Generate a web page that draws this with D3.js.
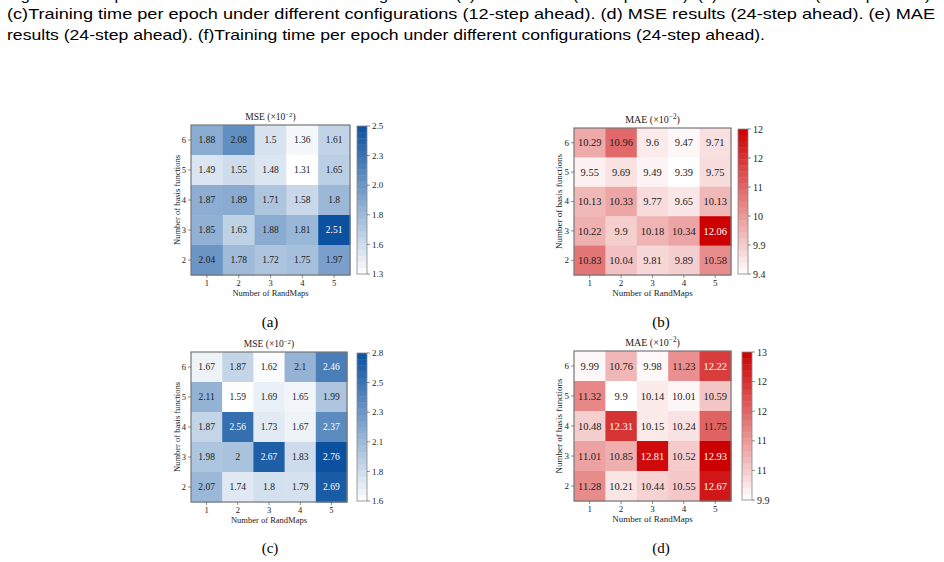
<!DOCTYPE html>
<html>
<head>
<meta charset="utf-8">
<script src="https://cdn.jsdelivr.net/npm/d3@7"></script>
<style>
  body { margin: 0; background: #fff; }
  svg { display: block; }
</style>
</head>
<body>
<svg id="fig" width="944" height="562"></svg>
<script>
// ---- data ----
const randMaps = [1, 2, 3, 4, 5]
const basisFns = [6, 5, 4, 3, 2]   // rows, top to bottom

const mse12 = [
  [1.88, 2.08, 1.5, 1.36, 1.61],
  [1.49, 1.55, 1.48, 1.31, 1.65],
  [1.87, 1.89, 1.71, 1.58, 1.8],
  [1.85, 1.63, 1.88, 1.81, 2.51],
  [2.04, 1.78, 1.72, 1.75, 1.97]
]
const mae12 = [
  [10.29, 10.96, 9.6, 9.47, 9.71],
  [9.55, 9.69, 9.49, 9.39, 9.75],
  [10.13, 10.33, 9.77, 9.65, 10.13],
  [10.22, 9.9, 10.18, 10.34, 12.06],
  [10.83, 10.04, 9.81, 9.89, 10.58]
]
const mse24 = [
  [1.67, 1.87, 1.62, 2.1, 2.46],
  [2.11, 1.59, 1.69, 1.65, 1.99],
  [1.87, 2.56, 1.73, 1.67, 2.37],
  [1.98, 2, 2.67, 1.83, 2.76],
  [2.07, 1.74, 1.8, 1.79, 2.69]
]
const mae24 = [
  [9.99, 10.76, 9.98, 11.23, 12.22],
  [11.32, 9.9, 10.14, 10.01, 10.59],
  [10.48, 12.31, 10.15, 10.24, 11.75],
  [11.01, 10.85, 12.81, 10.52, 12.93],
  [11.28, 10.21, 10.44, 10.55, 12.67]
]

const cbarTicksA = ["1.3", "1.6", "1.8", "2.0", "2.3", "2.5"]
const cbarTicksB = ["9.4", "9.9", "10", "11", "12", "12"]
const cbarTicksC = ["1.6", "1.8", "2.1", "2.3", "2.5", "2.8"]
const cbarTicksD = ["9.9", "11", "11", "12", "12", "13"]

const captionLines = [
  "Fig. 7. Heatmaps of the results under different configurations. (a) MSE results (12-step ahead). (b) MAE results (12-step ahead).",
  "(c)Training time per epoch under different configurations (12-step ahead). (d) MSE results (24-step ahead). (e) MAE",
  "results (24-step ahead). (f)Training time per epoch under different configurations (24-step ahead)."
]

const svg = d3.select("#fig")
const serif = "'Liberation Serif', 'Times New Roman', serif"

// ---- caption (first line sits mostly above the page edge) ----
const capLayout = [
  {y: -0.5, w: 928},
  {y: 19, w: 928},
  {y: 40, w: 758}
]
captionLines.forEach((t, i) => {
  svg.append("text")
    .attr("x", 7)
    .attr("y", capLayout[i].y)
    .attr("textLength", capLayout[i].w)
    .attr("lengthAdjust", "spacingAndGlyphs")
    .style("font", "15px 'Liberation Sans', Arial, sans-serif")
    .attr("fill", "#000")
    .text(t)
})

// ---- one heatmap panel ----
function drawPanel(values, ticks, opt) {
  const g = svg.append("g")
  const flat = values.flat()
  const vmin = d3.min(flat), vmax = d3.max(flat)

  const x = d3.scaleBand().domain(randMaps).range([opt.x0, opt.x1])
  const y = d3.scaleBand().domain(basisFns).range([opt.y0, opt.y1])
  const color = d3.scaleLinear().domain([vmin, vmax]).range(["#ffffff", opt.dark])

  const cells = []
  values.forEach((row, i) => row.forEach((v, j) => cells.push({r: basisFns[i], c: randMaps[j], v: v})))

  g.selectAll("rect.cell")
    .data(cells)
    .join("rect")
    .attr("class", "cell")
    .attr("x", d => x(d.c))
    .attr("y", d => y(d.r))
    .attr("width", x.bandwidth() + 0.5)
    .attr("height", y.bandwidth() + 0.5)
    .attr("fill", d => color(d.v))

  g.selectAll("text.val")
    .data(cells)
    .join("text")
    .attr("class", "val")
    .attr("x", d => x(d.c) + x.bandwidth() / 2)
    .attr("y", d => y(d.r) + y.bandwidth() / 2)
    .attr("dy", "0.35em")
    .attr("text-anchor", "middle")
    .style("font-family", serif)
    .style("font-size", opt.fs + "px")
    .attr("fill", d => (d.v - vmin) / (vmax - vmin) > 0.65 ? "#fff" : "#222")
    .text(d => String(d.v))

  // frame
  g.append("rect")
    .attr("x", opt.x0).attr("y", opt.y0)
    .attr("width", opt.x1 - opt.x0).attr("height", opt.y1 - opt.y0)
    .attr("fill", "none").attr("stroke", "#777").attr("stroke-width", 1.2)

  // axes
  const ax = g.append("g").attr("transform", `translate(0,${opt.y1})`)
    .call(d3.axisBottom(x).tickSize(3).tickPadding(2))
  const ay = g.append("g").attr("transform", `translate(${opt.x0},0)`)
    .call(d3.axisLeft(y).tickSize(3).tickPadding(2))
  ;[ax, ay].forEach(a => {
    a.select(".domain").remove()
    a.selectAll("line").attr("stroke", "#444").attr("stroke-width", 0.6)
    a.selectAll("text").style("font-family", serif).style("font-size", opt.tfs + "px").attr("fill", "#222")
  })

  g.append("text")
    .attr("x", (opt.x0 + opt.x1) / 2)
    .attr("y", opt.y1 + opt.tfs + 12)
    .attr("text-anchor", "middle")
    .style("font-family", serif).style("font-size", opt.tfs + "px")
    .attr("fill", "#222")
    .text("Number of RandMaps")

  g.append("text")
    .attr("transform", `translate(${opt.x0 - opt.tfs - 3},${(opt.y0 + opt.y1) / 2}) rotate(-90)`)
    .attr("text-anchor", "middle")
    .style("font-family", serif).style("font-size", opt.tfs + "px")
    .attr("fill", "#222")
    .text("Number of basis functions")

  // title
  const title = g.append("text")
    .attr("x", (opt.x0 + opt.x1) / 2)
    .attr("y", opt.y0 - 5)
    .attr("text-anchor", "middle")
    .style("font-family", serif).style("font-size", (opt.tfs + 1) + "px")
    .attr("fill", "#222")
  title.append("tspan").text(opt.title + " (×10")
  title.append("tspan").attr("dy", -opt.tfs * 0.4).style("font-size", (opt.tfs * 0.8) + "px").text("−2")
  title.append("tspan").attr("dy", opt.tfs * 0.4).text(")")

  // colorbar
  const cb = d3.scaleLinear().domain([vmin, vmax]).range([opt.y1 - 1, opt.y0 + 1])
  const nBands = 24
  const bands = d3.range(nBands).map(i => vmin + (i + 0.5) * (vmax - vmin) / nBands)
  const bandH = (cb(vmin) - cb(vmax)) / nBands
  g.selectAll("rect.band")
    .data(bands)
    .join("rect")
    .attr("class", "band")
    .attr("x", opt.cx)
    .attr("y", d => cb(d) - bandH / 2)
    .attr("width", opt.cw)
    .attr("height", bandH + 0.4)
    .attr("fill", d => color(d))
  g.append("rect")
    .attr("x", opt.cx).attr("y", cb(vmax))
    .attr("width", opt.cw).attr("height", cb(vmin) - cb(vmax))
    .attr("fill", "none").attr("stroke", "#888").attr("stroke-width", 0.8)

  const tickVals = ticks.map((t, i) => ({v: vmin + i * (vmax - vmin) / (ticks.length - 1), t: t}))
  g.selectAll("line.ctick")
    .data(tickVals)
    .join("line")
    .attr("class", "ctick")
    .attr("x1", opt.cx + opt.cw).attr("x2", opt.cx + opt.cw + 3)
    .attr("y1", d => cb(d.v)).attr("y2", d => cb(d.v))
    .attr("stroke", "#444").attr("stroke-width", 0.6)
  g.selectAll("text.ctick")
    .data(tickVals)
    .join("text")
    .attr("class", "ctick")
    .attr("x", opt.cx + opt.cw + 5)
    .attr("y", d => cb(d.v))
    .attr("dy", "0.35em")
    .style("font-family", serif).style("font-size", opt.cfs + "px")
    .attr("fill", "#222")
    .text(d => d.t)

  // panel label
  svg.append("text")
    .attr("x", opt.lx).attr("y", opt.ly)
    .attr("text-anchor", "middle")
    .style("font-family", serif).style("font-size", "15px")
    .attr("fill", "#000")
    .text(opt.label)
}

const blue = "#0b519f"
const red = "#cc0000"

drawPanel(mse12, cbarTicksA, {x0: 191, x1: 350, y0: 125, y1: 275, cx: 357, cw: 10,
  dark: blue, title: "MSE", fs: 9.5, tfs: 8.5, cfs: 9, label: "(a)", lx: 270, ly: 327})
drawPanel(mae12, cbarTicksB, {x0: 574, x1: 731, y0: 128, y1: 275, cx: 738, cw: 10,
  dark: red, title: "MAE", fs: 10.5, tfs: 9, cfs: 10, label: "(b)", lx: 661, ly: 327})
drawPanel(mse24, cbarTicksC, {x0: 191, x1: 347, y0: 352, y1: 502, cx: 357, cw: 10,
  dark: blue, title: "MSE", fs: 9.5, tfs: 8.5, cfs: 9, label: "(c)", lx: 270, ly: 553})
drawPanel(mae24, cbarTicksD, {x0: 574, x1: 731, y0: 351, y1: 501, cx: 742, cw: 10,
  dark: red, title: "MAE", fs: 10.5, tfs: 9, cfs: 10, label: "(d)", lx: 661, ly: 553})
</script>
</body>
</html>
